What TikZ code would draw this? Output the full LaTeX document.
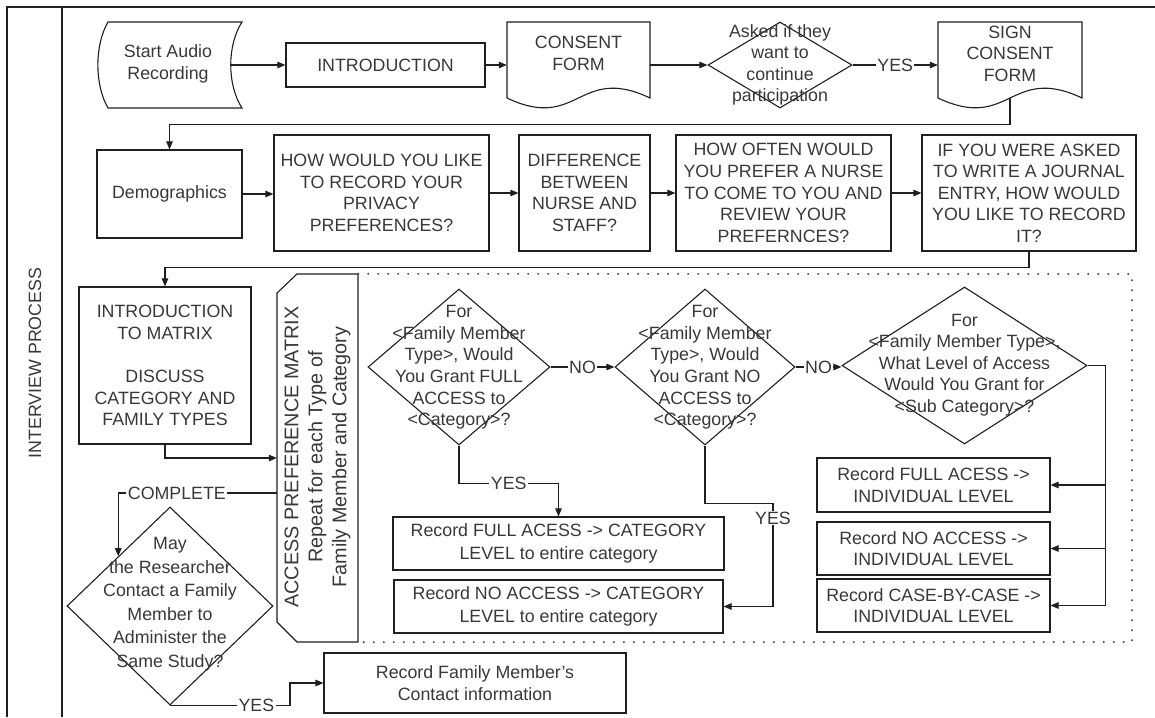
\documentclass[tikz,border=0pt]{standalone}
\usepackage{fontspec}
\setmainfont{Liberation Sans}
\usetikzlibrary{shapes.geometric,arrows.meta,calc}
\begin{document}
\begin{tikzpicture}[x=1pt,y=-1pt,
  lnc/.style={draw=black!88, line width=1.1pt},
  frame/.style={draw=black!88, line width=1.4pt},
  txt/.style={text=black!78, align=center, font=\fontsize{17.8}{21.6}\selectfont, inner sep=0pt},
  box/.style={lnc, rectangle, inner sep=0pt, txt},
  holder/.style={rectangle, inner sep=0pt},
  dia/.style={lnc, diamond, inner sep=0pt},
  arr/.style={lnc, -{Triangle[length=8pt,width=6.5pt]}},
  lbl/.style={txt, fill=white, inner xsep=1.5pt, inner ysep=1pt},
  dotline/.style={draw=black!72, line width=2.2pt, line cap=round, dash pattern=on 0pt off 10pt}
]
\useasboundingbox (0,0) rectangle (1155,717);

% frame
\draw[frame] (1155,7) -- (7,7) -- (7,717);
\draw[frame] (62,7) -- (62,717);
\node[txt, rotate=90] (lane) at (35,363) {INTERVIEW PROCESS};

% row 1
\node[holder, minimum width=144pt, minimum height=86pt] (start) at (170,65) {};
\draw[lnc] (108,22) -- (242,22) .. controls (227,45) and (227,85) .. (242,108) -- (108,108) .. controls (94.5,85) and (94.5,45) .. (108,22) -- cycle;
\node[txt] (start-t) at (168,64) {Start Audio\\Recording};

\node[box, minimum width=199pt, minimum height=44pt] (intro) at (385.5,65) {INTRODUCTION};

\node[holder, minimum width=143pt, minimum height=76pt] (consent) at (578.5,60) {};
\draw[lnc] (507,22) -- (650,22) -- (650,98) .. controls (578.5,64) and (578.5,132) .. (507,98) -- cycle;
\node[txt] (consent-t) at (578.5,53.5) {CONSENT\\FORM};

\node[dia, minimum width=144pt, minimum height=86pt] (ask) at (780,65) {};
\node[txt, font=\fontsize{17.8}{21.3}\selectfont] (ask-t) at (780,65) {Asked if they\\want to\\continue\\participation};

\node[holder, minimum width=144pt, minimum height=76pt] (sign) at (1010,60) {};
\draw[lnc] (938,22) -- (1082,22) -- (1082,98) .. controls (1010,64) and (1010,132) .. (938,98) -- cycle;
\node[txt] (sign-t) at (1010,53.5) {SIGN\\CONSENT\\FORM};

% row 2
\node[box, minimum width=145pt, minimum height=88pt] (demo) at (169.5,194) {Demographics};
\node[box, minimum width=215pt, minimum height=116pt] (how1) at (381.5,193) {HOW WOULD YOU LIKE\\TO RECORD YOUR\\PRIVACY\\PREFERENCES?};
\node[box, minimum width=131pt, minimum height=116pt] (diff) at (584.5,193) {DIFFERENCE\\BETWEEN\\NURSE AND\\STAFF?};
\node[box, minimum width=215pt, minimum height=116pt] (how2) at (783.5,193) {HOW OFTEN WOULD\\YOU PREFER A NURSE\\TO COME TO YOU AND\\REVIEW YOUR\\PREFERNCES?};
\node[box, minimum width=214pt, minimum height=116pt] (ifbox) at (1029,193) {IF YOU WERE ASKED\\TO WRITE A JOURNAL\\ENTRY, HOW WOULD\\YOU LIKE TO RECORD\\IT?};

% row 3
\node[box, minimum width=172pt, minimum height=157pt] (intro2) at (165,365.5) {INTRODUCTION\\TO MATRIX\\\mbox{}\\DISCUSS\\CATEGORY AND\\FAMILY TYPES};

\node[holder, minimum width=81pt, minimum height=368pt] (access) at (317.5,458) {};
\draw[lnc] (297,274) -- (358,274) -- (358,642) -- (297,642) -- (277,622) -- (277,293) -- cycle;
\node[txt, rotate=90, font=\fontsize{19.8}{24}\selectfont] (access-t) at (317.5,457) {ACCESS PREFERENCE MATRIX\\Repeat for each Type of\\Family Member and Category};

\draw[dotline] (access.north east) -- (1132,274) -- (1132,642) -- (access.south east);

\node[dia, minimum width=206pt, minimum height=198pt] (may) at (170,606) {};
\node[txt, font=\fontsize{17.8}{23.5}\selectfont] (may-t) at (170,604) {May\\the Researcher\\Contact a Family\\Member to\\Administer the\\Same Study?};

\node[box, minimum width=302pt, minimum height=60pt] (recfam) at (475,683) {Record Family Member’s\\Contact information};

\node[dia, minimum width=182pt, minimum height=156pt] (d1) at (459,367) {};
\node[txt] (d1-t) at (459,367.5) {For\\<Family Member\\Type>, Would\\You Grant FULL\\ACCESS to\\<Category>?};
\node[dia, minimum width=180pt, minimum height=156pt] (d2) at (705,367) {};
\node[txt] (d2-t) at (705,367.5) {For\\<Family Member\\Type>, Would\\You Grant NO\\ACCESS to\\<Category>?};
\node[dia, minimum width=245pt, minimum height=157pt] (d3) at (964.5,365.5) {};
\node[txt] (d3-t) at (964.5,365) {For\\<Family Member Type>,\\What Level of Access\\Would You Grant for\\<Sub Category>?};

\node[box, minimum width=331pt, minimum height=53pt, font=\fontsize{17.8}{23}\selectfont] (lfull) at (558.5,543.5) {Record FULL ACESS -> CATEGORY\\LEVEL to entire category};
\node[box, minimum width=329pt, minimum height=53pt, font=\fontsize{17.8}{23}\selectfont] (lno) at (558.5,606.5) {Record NO ACCESS -> CATEGORY\\LEVEL to entire category};
\node[box, minimum width=233pt, minimum height=54pt] (r1) at (933.5,485) {Record FULL ACESS ->\\INDIVIDUAL LEVEL};
\node[box, minimum width=233pt, minimum height=53pt] (r2) at (933.5,548.5) {Record NO ACCESS ->\\INDIVIDUAL LEVEL};
\node[box, minimum width=233pt, minimum height=53pt] (r3) at (933.5,605.5) {Record CASE-BY-CASE ->\\INDIVIDUAL LEVEL};

% connectors row 1
\draw[arr] ([xshift=-11pt]start.east) -- (intro.west);
\draw[arr] (intro.east) -- (intro.east -| consent.west);
\draw[arr] (ask.west -| consent.east) -- (ask.west);
\draw[arr] (ask.east) -- node[lbl]{YES} (ask.east -| sign.west);
\draw[arr] (sign.south) -- ++(0,26) -| (demo.north);

% row 2
\draw[arr] (demo.east) -- (demo.east -| how1.west);
\draw[arr] (how1.east) -- (diff.west);
\draw[arr] (diff.east) -- (how2.west);
\draw[arr] (how2.east) -- (ifbox.west);
\draw[arr] (ifbox.south) -- ++(0,16) -| (intro2.north);

% row 3
\draw[arr] (intro2.south) |- (access.west);
\coordinate (cp) at ([yshift=-35pt]access.west);
\draw[arr] (cp) -- node[lbl,pos=.63]{COMPLETE} (cp -| may.north west) -- (may.north west);
\draw[arr] (may.south) -- node[lbl,pos=.72]{YES} ++(120,0) |- (recfam.west);

\draw[arr] (d1.east) -- node[lbl]{NO} (d2.west);
\draw[arr] (d2.east) -- node[lbl]{NO} (d2.east -| d3.west);
\draw[arr] (d1.south) -- ++(0,38) coordinate (a1) -- node[lbl]{YES} (a1 -| lfull.north) -- (lfull.north);
\draw[arr] (d2.south) -- ++(0,58) -- ++(68,0) coordinate (b2) -- node[lbl,pos=.14]{YES} (b2 |- lno.east) -- (lno.east);
\draw[arr] (d3.east) -- ++(18,0) coordinate (c3) |- (r3.east);
\draw[arr] (c3 |- r1.east) -- (r1.east);
\draw[arr] (c3 |- r2.east) -- (r2.east);
\end{tikzpicture}
\end{document}
